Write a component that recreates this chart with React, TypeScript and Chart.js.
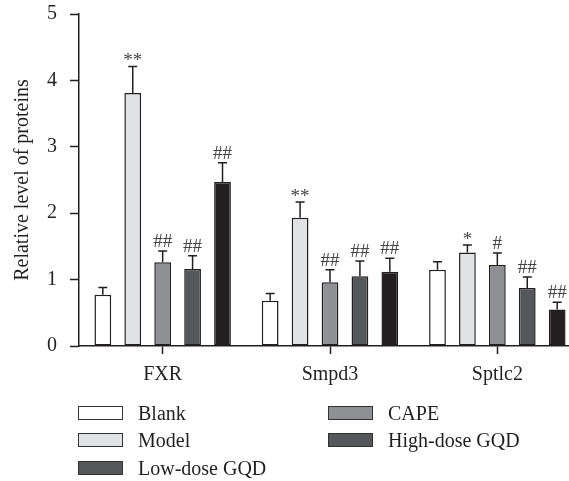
import React, { useEffect, useRef } from "react";
import { Chart, registerables } from "chart.js";

Chart.register(...registerables);

const categories = ["FXR", "Smpd3", "Sptlc2"];
const groupNames = ["Blank", "Model", "CAPE", "Low-dose GQD", "High-dose GQD"];

const blank = [0.77, 0.68, 1.15];
const model = [3.81, 1.93, 1.41];
const cape = [1.26, 0.96, 1.22];
const lowDose = [1.16, 1.05, 0.875];
const highDose = [2.47, 1.12, 0.55];

const blankSd = [0.11, 0.11, 0.12];
const modelSd = [0.4, 0.24, 0.11];
const capeSd = [0.17, 0.19, 0.18];
const lowSd = [0.2, 0.23, 0.165];
const highSd = [0.29, 0.2, 0.11];

const blankMarks = ["", "", ""];
const modelMarks = ["**", "**", "*"];
const capeMarks = ["##", "##", "#"];
const lowMarks = ["##", "##", "##"];
const highMarks = ["##", "##", "##"];

const barColors = ["#ffffff", "#e1e2e4", "#8f9094", "#56575a", "#231f20"];
const legendColors = ["#ffffff", "#e1e2e4", "#8f9094", "#56575a", "#56575a"];

const values = [blank, model, cape, lowDose, highDose];
const sds = [blankSd, modelSd, capeSd, lowSd, highSd];
const marks = [blankMarks, modelMarks, capeMarks, lowMarks, highMarks];

const INK = "#231f20";
const FONT = "'Liberation Serif', 'Times New Roman', serif";

const errorBarPlugin = {
  id: "errorBars",
  afterDatasetsDraw(chart: any) {
    const ctx = chart.ctx;
    const yScale = chart.scales.y;
    ctx.save();
    chart.data.datasets.forEach((ds: any, di: number) => {
      const meta = chart.getDatasetMeta(di);
      meta.data.forEach((el: any, i: number) => {
        const v = ds.data[i];
        const top = yScale.getPixelForValue(v + sds[di][i]);
        const x = el.x;
        ctx.strokeStyle = INK;
        ctx.lineWidth = 1.5;
        ctx.beginPath();
        ctx.moveTo(x, el.y);
        ctx.lineTo(x, top);
        ctx.moveTo(x - 4.5, top);
        ctx.lineTo(x + 4.5, top);
        ctx.stroke();
        const m = marks[di][i];
        if (m) {
          ctx.fillStyle = "#444444";
          ctx.font = `19px ${FONT}`;
          ctx.textAlign = "center";
          ctx.textBaseline = "alphabetic";
          const off = m.includes("*") ? 0 : 4;
          ctx.fillText(m, x, top - off);
        }
      });
    });
    ctx.restore();
  },
};

const legendOrder = [
  { idx: 0, x: 78, y: 405.5 },
  { idx: 1, x: 78, y: 433 },
  { idx: 3, x: 78, y: 460.5 },
  { idx: 2, x: 328, y: 405.5 },
  { idx: 4, x: 328, y: 433 },
];

export default function App() {
  const ref = useRef<HTMLCanvasElement>(null);
  useEffect(() => {
    if (!ref.current) return;
    const chart = new Chart(ref.current, {
      type: "bar",
      data: {
        labels: categories,
        datasets: groupNames.map((name, i) => ({
          label: name,
          data: values[i],
          backgroundColor: barColors[i],
          borderColor: INK,
          borderWidth: 1.5,
          borderSkipped: false,
          categoryPercentage: 0.894,
          barPercentage: 0.56,
        })),
      },
      options: {
        responsive: false,
        animation: false,
        layout: { padding: { left: 0, right: 0, top: 14, bottom: 95 } },
        plugins: {
          legend: { display: false },
          tooltip: { enabled: false },
        },
        scales: {
          x: {
            offset: true,
            grid: {
              display: true,
              drawOnChartArea: false,
              offset: false,
              tickLength: 8,
              tickColor: INK,
              tickWidth: 1.5,
            },
            border: { color: INK, width: 1.5 },
            ticks: { font: { family: FONT, size: 20 }, color: INK, padding: 9 },
            afterFit: (s: any) => {
              s.height = 40;
              s.paddingLeft = 0;
              s.paddingRight = 0;
            },
          },
          y: {
            min: 0,
            max: 5,
            ticks: { stepSize: 1, padding: 13, font: { family: FONT, size: 20 }, color: INK },
            grid: {
              display: true,
              drawOnChartArea: false,
              tickLength: 9,
              tickColor: INK,
              tickWidth: 1.5,
            },
            border: { color: INK, width: 1.5 },
            title: {
              display: true,
              text: "Relative level of proteins",
              font: { family: FONT, size: 20 },
              color: INK,
              padding: { top: 11, bottom: 0 },
            },
            afterFit: (s: any) => {
              s.width = 79;
              s.paddingTop = 0;
              s.paddingBottom = 0;
            },
          },
        },
      },
      plugins: [errorBarPlugin],
    });
    return () => chart.destroy();
  }, []);

  return (
    <div
      style={{
        position: "absolute",
        left: 0,
        top: 0,
        width: 569,
        height: 481,
        overflow: "hidden",
        background: "#fff",
      }}
    >
      <canvas ref={ref} width={581} height={481} style={{ display: "block" }} />
      {legendOrder.map((it) => (
        <React.Fragment key={it.idx}>
          <div
            style={{
              position: "absolute",
              left: it.x,
              top: it.y,
              width: 45,
              height: 14,
              boxSizing: "border-box",
              border: "1.2px solid #333",
              background: legendColors[it.idx],
            }}
          />
          <div
            style={{
              position: "absolute",
              left: it.x + 60,
              top: it.y - 5,
              fontFamily: FONT,
              fontSize: 20,
              lineHeight: "24px",
              color: INK,
              whiteSpace: "nowrap",
            }}
          >
            {groupNames[it.idx]}
          </div>
        </React.Fragment>
      ))}
    </div>
  );
}
